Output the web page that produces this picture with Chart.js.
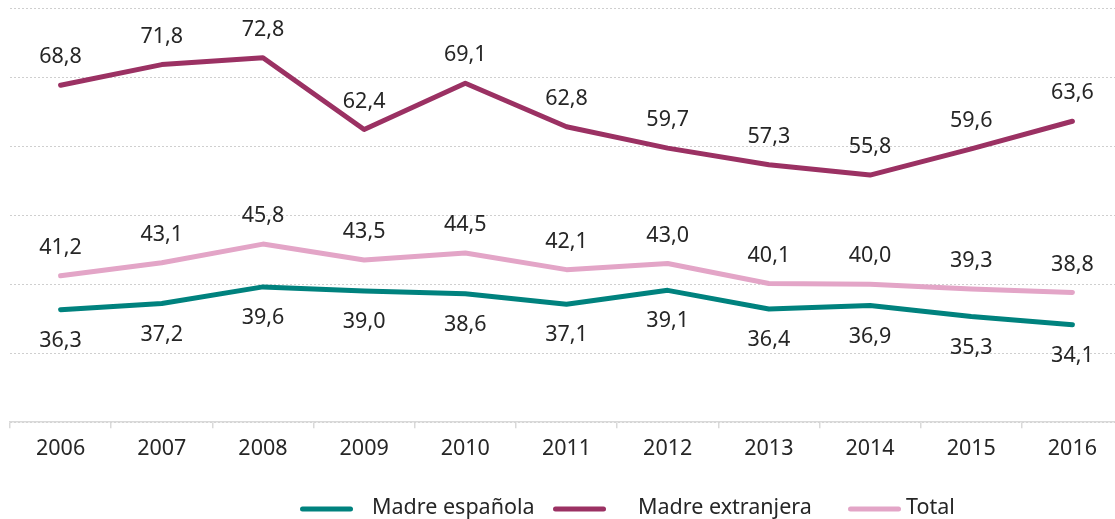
<!DOCTYPE html>
<html>
<head>
<meta charset="utf-8">
<script src="https://cdn.jsdelivr.net/npm/chart.js@4/dist/chart.umd.min.js"></script>
<style>
  html, body { margin: 0; padding: 0; background: #fff; overflow: hidden; }
  #wrap { width: 1123px; height: 519px; position: relative; }
</style>
</head>
<body>
<div id="wrap"><canvas id="c"></canvas></div>
<script>
const categories = ['2006','2007','2008','2009','2010','2011','2012','2013','2014','2015','2016'];
const madreEspanola = [36.3, 37.2, 39.6, 39.0, 38.6, 37.1, 39.1, 36.4, 36.9, 35.3, 34.1];
const madreExtranjera = [68.8, 71.8, 72.8, 62.4, 69.1, 62.8, 59.7, 57.3, 55.8, 59.6, 63.6];
const total = [41.2, 43.1, 45.8, 43.5, 44.5, 42.1, 43.0, 40.1, 40.0, 39.3, 38.8];
const seriesNames = ['Madre española', 'Madre extranjera', 'Total'];

const colors = ['#00827e', '#9b3163', '#e3a5c7'];
const FONT = '"Noto Sans", "Open Sans", sans-serif';
const FS = 21.5;

// legend layout (positions only)
const LEGEND_SLOTS = [300, 553, 848];
const LEGEND_TEXT_X = [372, 638, 906];
const LEGEND_Y = 508;
const LEGEND_LINE = 53;
const LEGEND_FS = 21.5;

const labelPlugin = {
  id: 'valueLabels',
  afterDatasetsDraw(chart) {
    const ctx = chart.ctx;
    ctx.save();
    ctx.font = FS + 'px ' + FONT;
    ctx.fillStyle = '#262626';
    ctx.textAlign = 'center';
    ctx.textBaseline = 'middle';
    chart.data.datasets.forEach((ds, i) => {
      const meta = chart.getDatasetMeta(i);
      const off = ds.labelBelow ? 31 : -28;
      meta.data.forEach((el, j) => {
        const v = ds.data[j];
        ctx.fillText(v.toFixed(1).replace('.', ','), el.x, el.y + off);
      });
    });
    ctx.restore();
  }
};

const legendPlugin = {
  id: 'lineLegend',
  afterDraw(chart) {
    const ctx = chart.ctx;
    ctx.save();
    ctx.font = LEGEND_FS + 'px ' + FONT;
    ctx.textBaseline = 'middle';
    ctx.textAlign = 'left';
    chart.data.datasets.forEach((ds, i) => {
      const x = LEGEND_SLOTS[i];
      ctx.strokeStyle = ds.borderColor;
      ctx.lineWidth = 5;
      ctx.lineCap = 'round';
      ctx.beginPath();
      ctx.moveTo(x + 2.5, LEGEND_Y + 1);
      ctx.lineTo(x + LEGEND_LINE - 2.5, LEGEND_Y + 1);
      ctx.stroke();
      ctx.fillStyle = '#262626';
      ctx.fillText(ds.label, LEGEND_TEXT_X[i], LEGEND_Y);
    });
    ctx.restore();
  }
};

new Chart(document.getElementById('c'), {
  type: 'line',
  data: {
    labels: categories,
    datasets: [
      { label: seriesNames[0], data: madreEspanola, borderColor: colors[0], backgroundColor: colors[0], labelBelow: true },
      { label: seriesNames[1], data: madreExtranjera, borderColor: colors[1], backgroundColor: colors[1] },
      { label: seriesNames[2], data: total, borderColor: colors[2], backgroundColor: colors[2] }
    ]
  },
  options: {
    responsive: true,
    maintainAspectRatio: false,
    animation: false,
    layout: { padding: { left: 10, top: 8, right: 0, bottom: 49 } },
    elements: {
      line: { borderWidth: 5, tension: 0, borderCapStyle: 'round', borderJoinStyle: 'round', fill: false },
      point: { radius: 0, hoverRadius: 0 }
    },
    scales: {
      x: {
        offset: true,
        grid: { display: true, drawOnChartArea: false, drawTicks: true, tickLength: 6, offset: true, color: '#d9d9d9', lineWidth: 1.5 },
        border: { display: true, color: '#d9d9d9', width: 1.5 },
        ticks: { color: '#262626', font: { family: FONT, size: FS }, padding: 8, autoSkip: false, maxRotation: 0 }
      },
      y: {
        min: 20, max: 80,
        ticks: { display: false, stepSize: 10 },
        border: { display: false, dash: [2, 2] },
        grid: { drawTicks: false, color: '#cfcfcf', lineWidth: 1 }
      }
    },
    plugins: {
      tooltip: { enabled: false },
      legend: { display: false }
    }
  },
  plugins: [labelPlugin, legendPlugin]
});
</script>
</body>
</html>
